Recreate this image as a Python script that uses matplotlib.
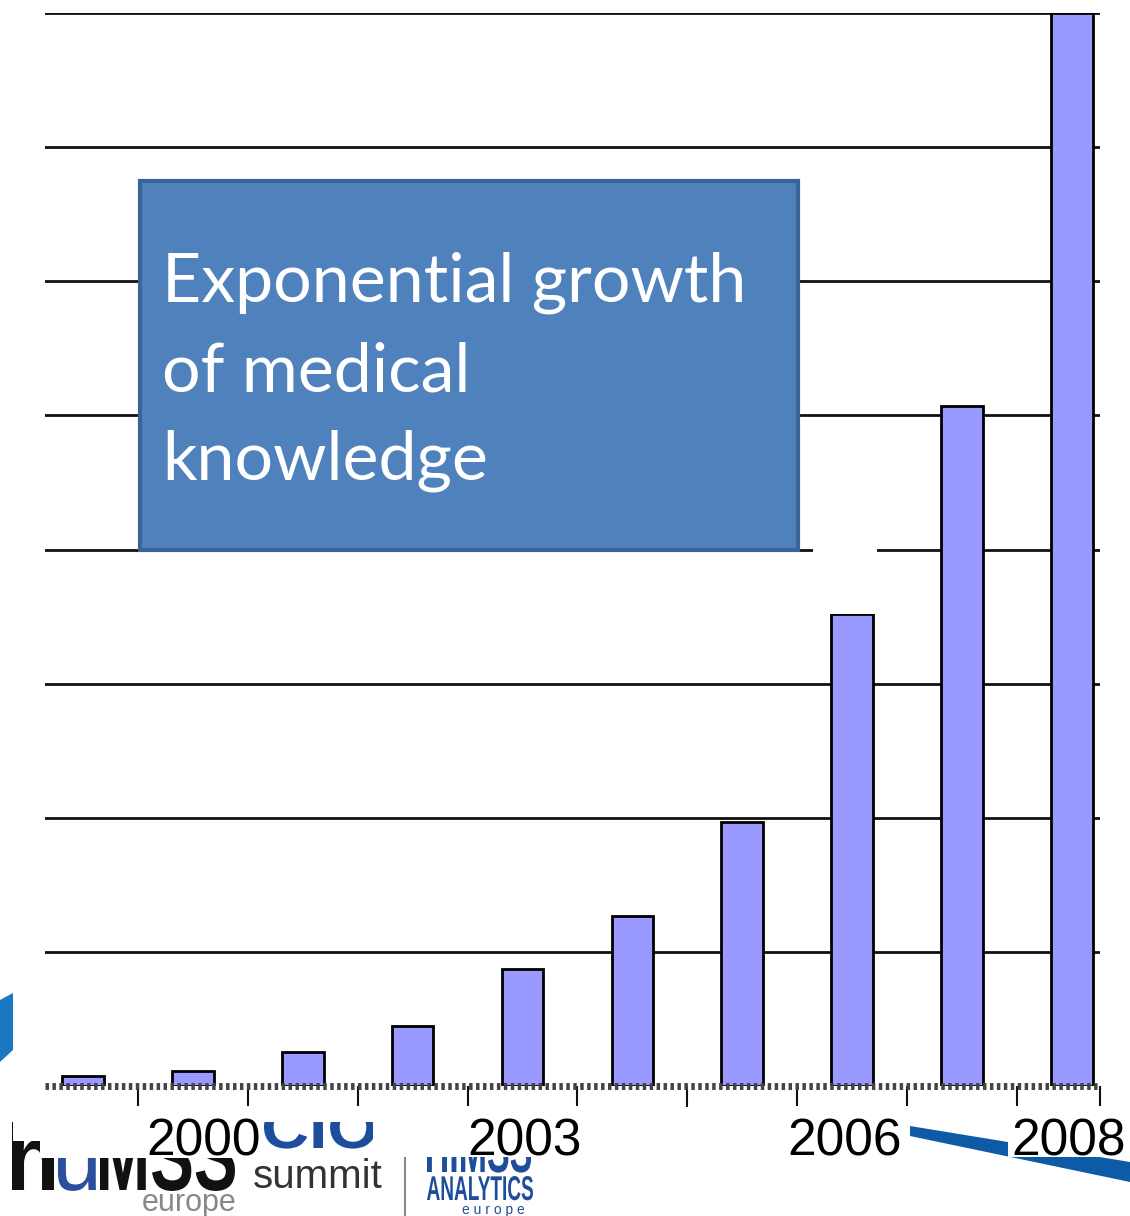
import matplotlib
matplotlib.use("Agg")
import matplotlib.pyplot as plt
from matplotlib.patches import Rectangle, Polygon, PathPatch
from matplotlib.textpath import TextPath
from matplotlib.font_manager import FontProperties
from matplotlib.transforms import Affine2D, blended_transform_factory, offset_copy

# data (units = gridline steps)
years = [1999, 2000, 2001, 2002, 2003, 2004, 2005, 2006, 2007, 2008]
values = [0.075, 0.11, 0.25, 0.45, 0.87, 1.27, 1.97, 3.52, 5.07, 8.0]
label_years = [2000, 2003, 2006, 2008]
box_lines = ["Exponential growth", "of medical", "knowledge"]

W, H = 1130, 1216
fig = plt.figure(figsize=(W / 100, H / 100), dpi=100)

def fx(x):
    return x / W

def fy(y):
    return 1 - y / H

def rect(x0, y0, x1, y1, z, **kw):
    fig.patches.append(Rectangle((fx(x0), fy(y1)), fx(x1) - fx(x0), fy(y0) - fy(y1),
                                 transform=fig.transFigure, zorder=z, **kw))

def squeezed_text(s, x0, base, top, width, color, family="Liberation Sans", weight="bold", z=1):
    # text drawn as a path and squeezed into a box (for the condensed logo type)
    tp = TextPath((0, 0), s, size=1, prop=FontProperties(family=family, weight=weight))
    ext = tp.get_extents()
    sx = width / ext.width
    sy = (base - top) / ext.y1
    tr = Affine2D().translate(-ext.x0, 0).scale(sx / W, sy / H).translate(fx(x0), fy(base))
    fig.patches.append(PathPatch(tp, transform=tr + fig.transFigure, facecolor=color,
                                 edgecolor="none", zorder=z))

ax = fig.add_axes([fx(45), fy(1086), fx(1100) - fx(45), fy(13) - fy(1086)])
ax.set_xlim(1998.655, 2008.255)
ax.set_ylim(0, 8)

for g in range(1, 9):
    ax.axhline(g, color="#111111", lw=2, zorder=1)

ax.bar(years, values, width=0.38, color="#9999FF", edgecolor="black",
       linewidth=2, zorder=3)

# dotted baseline
ax.axhline(0, color="#444444", lw=5, ls=(0, (0.5, 0.5)), zorder=4, clip_on=False)

for s in ax.spines.values():
    s.set_visible(False)
ax.set_yticks([])
ax.set_xticks([y + 0.5 for y in years[:-1]] + [2008.255])
ax.tick_params(axis="x", length=15, width=1.5, color="#111111", labelbottom=False)

# white patch over the 2006 bar top
rect(813, 549, 877, 614, 5, facecolor="white", edgecolor="none")

# text box
rect(140, 181, 798, 550, 5, facecolor="#4F81BD", edgecolor="#3A6396", linewidth=3)
for i, line in enumerate(box_lines):
    fig.text(fx(162), fy(302 + i * 89), line, color="white", fontsize=49,
             family="Lato", va="baseline", ha="left", zorder=6)

# logo bits at the bottom
squeezed_text("h", 12, 1190, 1122, 42, "#111111")
squeezed_text("u", 58, 1190, 1140, 38, "#2B4E9E", weight="normal")
squeezed_text("MSS", 100, 1190, 1122, 135, "#111111")
squeezed_text("CIO", 264, 1148, 1106, 112, "#1E4D9B")
fig.text(fx(253), fy(1188), "summit", family="Liberation Sans", fontsize=29,
         color="#333333", va="baseline", zorder=2)
fig.text(fx(142), fy(1211), "europe", family="Liberation Sans", fontsize=22,
         color="#888888", va="baseline", zorder=2)
fig.lines.append(plt.Line2D([fx(405), fx(405)], [fy(1125), fy(1216)],
                            transform=fig.transFigure, color="#888888", lw=1.5))
squeezed_text("HIMSS", 427, 1172, 1128, 104, "#1E4D9B")
squeezed_text("ANALYTICS", 427, 1200, 1176, 106, "#1E4D9B")
fig.text(fx(462), fy(1214), "e u r o p e", family="Liberation Sans", fontsize=10,
         color="#1E4D9B", va="baseline", zorder=2)

# blue swooshes
fig.patches.append(Polygon([(fx(0), fy(1000)), (fx(13), fy(993)), (fx(13), fy(1050)),
                            (fx(0), fy(1062))], closed=True, transform=fig.transFigure,
                           facecolor="#1C78C0", edgecolor="none", zorder=0))
fig.patches.append(Polygon([(fx(910), fy(1126)), (fx(1130), fy(1162)), (fx(1130), fy(1182)),
                            (fx(910), fy(1136))], closed=True, transform=fig.transFigure,
                           facecolor="#0D5AA7", edgecolor="none", zorder=0))

# white label boxes over the logos
rect(40, 1106, 262, 1158, 7, facecolor="white", edgecolor="none")
rect(13, 1106, 40, 1141, 7, facecolor="white", edgecolor="none")
rect(262, 1106, 380, 1122, 7, facecolor="white", edgecolor="none")
rect(373, 1106, 583, 1157, 7, facecolor="white", edgecolor="none")
rect(785, 1106, 910, 1160, 7, facecolor="white", edgecolor="none")
rect(1008, 1106, 1130, 1157, 7, facecolor="white", edgecolor="none")

lab_tr = blended_transform_factory(ax.transData, fig.transFigure)
lab_dx = [11, 2, -8, -3]
for yr, dx in zip(label_years, lab_dx):
    fig.text(yr, fy(1155), str(yr), ha="center", va="baseline", fontsize=37,
             family="Liberation Sans", color="black", zorder=8,
             transform=offset_copy(lab_tr, fig=fig, x=dx, y=0, units="dots"))

fig.savefig("out.png", dpi=100)
